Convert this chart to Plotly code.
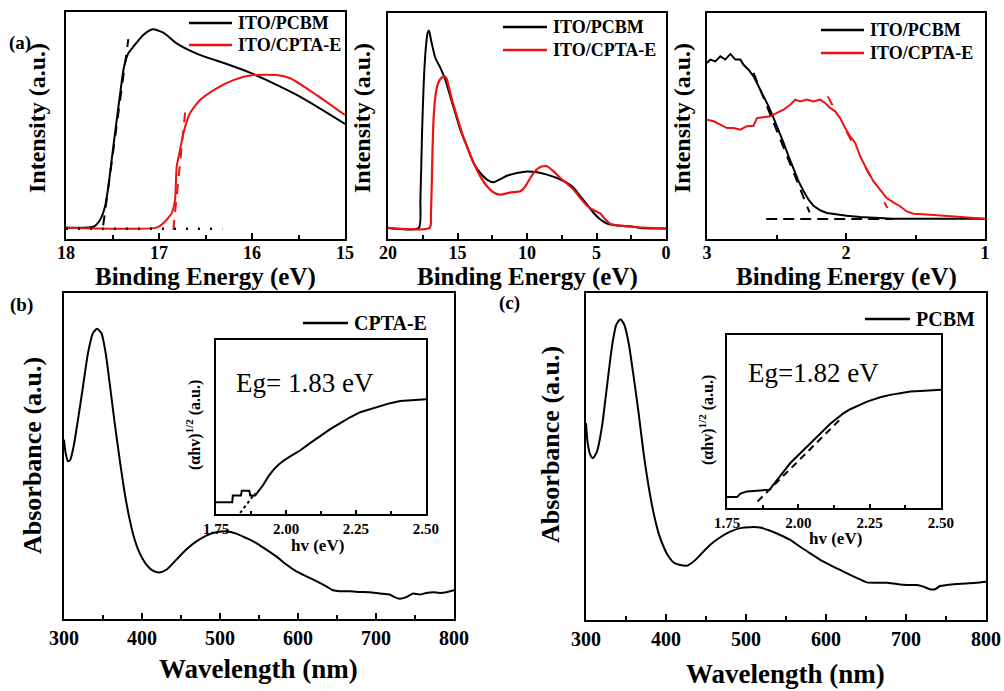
import plotly.graph_objects as go

SERIF = "Liberation Serif"
RED = "#ee1111"

# ---------------- data (a) left: secondary electron cutoff ----------------
a1_pcbm_x = [18.0, 17.706, 17.634, 17.581, 17.545, 17.509, 17.473, 17.427, 17.376, 17.33, 17.276, 17.169,
             17.068, 16.954, 16.81, 16.667, 16.487, 16.272, 16.022, 15.842, 15.484, 15.0]
a1_pcbm_y = [0.050, 0.054, 0.084, 0.142, 0.230, 0.348, 0.466, 0.612, 0.759, 0.818, 0.847, 0.899,
             0.924, 0.909, 0.862, 0.830, 0.800, 0.771, 0.733, 0.700, 0.627, 0.507]
a1_cpta_x = [18.0, 17.025, 16.954, 16.865, 16.828, 16.81, 16.774, 16.738, 16.667, 16.559, 16.38, 16.2,
             15.986, 15.735, 15.59, 15.304, 15.0]
a1_cpta_y = [0.050, 0.050, 0.069, 0.113, 0.172, 0.319, 0.392, 0.466, 0.554, 0.612, 0.664, 0.700,
             0.722, 0.722, 0.708, 0.634, 0.546]
a1_fit_pcbm_x = [17.60, 17.33]
a1_fit_pcbm_y = [0.06, 0.88]
a1_fit_cpta_x = [16.846, 16.713]
a1_fit_cpta_y = [0.04, 0.583]
a1_base_x = [18.0, 16.32]
a1_base_y = [0.045, 0.045]

# ---------------- data (a) middle: full UPS ----------------
a2_pcbm_x = [20.0, 17.79, 17.67, 17.55, 17.43, 17.29, 17.15, 17.05, 16.91, 16.59, 16.23, 15.88, 15.52,
             15.16, 14.80, 14.32, 13.84, 13.36, 12.88, 12.40, 11.92, 11.44, 10.72, 10.00, 9.28, 8.56,
             7.84, 7.12, 6.64, 6.16, 5.68, 5.20, 4.72, 4.24, 3.53, 2.57, 1.85, 0.0]
a2_pcbm_y = [0.049, 0.049, 0.174, 0.469, 0.690, 0.838, 0.912, 0.923, 0.882, 0.801, 0.757, 0.705, 0.631,
             0.558, 0.484, 0.410, 0.336, 0.292, 0.263, 0.251, 0.265, 0.280, 0.292, 0.299, 0.295, 0.285,
             0.270, 0.248, 0.226, 0.189, 0.152, 0.115, 0.086, 0.068, 0.060, 0.056, 0.049, 0.046]
a2_cpta_x = [20.0, 17.0, 16.91, 16.79, 16.71, 16.59, 16.43, 16.23, 15.99, 15.80, 15.64, 15.40, 15.04,
             14.68, 14.32, 13.84, 13.36, 12.88, 12.40, 11.92, 11.20, 10.48, 10.12, 9.76, 9.40, 9.04,
             8.56, 8.08, 7.60, 7.12, 6.64, 6.16, 5.68, 5.20, 4.72, 4.36, 4.00, 3.29, 2.33, 0.0]
a2_cpta_y = [0.049, 0.049, 0.115, 0.410, 0.543, 0.631, 0.683, 0.708, 0.720, 0.712, 0.676, 0.617, 0.543,
             0.469, 0.410, 0.336, 0.277, 0.233, 0.206, 0.196, 0.206, 0.211, 0.233, 0.270, 0.302, 0.319,
             0.322, 0.299, 0.270, 0.245, 0.218, 0.181, 0.147, 0.127, 0.112, 0.086, 0.066, 0.059, 0.053, 0.046]

# ---------------- data (a) right: HOMO onset ----------------
a3_pcbm_x = [3.0, 2.976, 2.940, 2.904, 2.868, 2.832, 2.796, 2.760, 2.737, 2.701, 2.665, 2.629, 2.593,
             2.557, 2.521, 2.485, 2.449, 2.413, 2.377, 2.341, 2.305, 2.269, 2.234, 2.186, 2.138, 2.066,
             1.994, 1.898, 1.778, 1.659, 1.0]
a3_pcbm_y = [0.779, 0.794, 0.786, 0.808, 0.794, 0.819, 0.794, 0.794, 0.771, 0.749, 0.720, 0.676, 0.631,
             0.587, 0.535, 0.484, 0.425, 0.366, 0.307, 0.255, 0.211, 0.174, 0.147, 0.127, 0.115, 0.108,
             0.103, 0.097, 0.093, 0.090, 0.090]
a3_cpta_x = [3.0, 2.952, 2.904, 2.856, 2.808, 2.760, 2.713, 2.665, 2.641, 2.593, 2.545, 2.497, 2.449,
             2.401, 2.365, 2.329, 2.281, 2.234, 2.186, 2.150, 2.114, 2.078, 2.042, 2.006, 1.970, 1.934,
             1.898, 1.850, 1.802, 1.755, 1.707, 1.659, 1.611, 1.563, 1.515, 1.419, 1.299, 1.180, 1.0]
a3_cpta_y = [0.528, 0.521, 0.506, 0.491, 0.491, 0.484, 0.499, 0.501, 0.535, 0.540, 0.543, 0.558, 0.572,
             0.594, 0.617, 0.609, 0.617, 0.609, 0.617, 0.602, 0.580, 0.565, 0.535, 0.491, 0.454, 0.425,
             0.366, 0.307, 0.255, 0.218, 0.181, 0.162, 0.145, 0.122, 0.112, 0.108, 0.103, 0.096, 0.090]
a3_base_x = [2.574, 1.659]
a3_base_y = [0.088, 0.088]
a3_fit_pcbm_x = [2.665, 2.262]
a3_fit_pcbm_y = [0.735, 0.118]
a3_fit_cpta_x = [2.131, 1.702]
a3_fit_cpta_y = [0.631, 0.137]

# ---------------- data (b) CPTA-E absorbance ----------------
b_wl = [300.0, 302.1, 305.1, 308.1, 312.4, 317.9, 324.4, 330.8, 337.2, 342.3, 347.9, 353.4, 358.5, 365.0,
        371.4, 377.8, 384.2, 390.6, 397.0, 405.6, 414.1, 422.6, 431.2, 444.0, 456.8, 469.7, 482.5, 495.3,
        508.1, 520.9, 533.8, 546.6, 559.4, 572.2, 585.0, 597.9, 610.7, 623.5, 636.3, 644.9, 653.4, 666.2,
        679.1, 691.9, 704.7, 717.5, 723.9, 730.3, 738.9, 747.4, 756.0, 764.5, 773.1, 781.6, 790.2, 800.0]
b_abs = [0.550, 0.509, 0.484, 0.489, 0.530, 0.611, 0.714, 0.816, 0.877, 0.890, 0.877, 0.816, 0.724, 0.601,
         0.489, 0.387, 0.305, 0.243, 0.202, 0.167, 0.148, 0.143, 0.151, 0.182, 0.213, 0.238, 0.256, 0.266,
         0.269, 0.262, 0.248, 0.233, 0.213, 0.192, 0.167, 0.146, 0.131, 0.116, 0.100, 0.088, 0.085, 0.085,
         0.083, 0.082, 0.078, 0.075, 0.067, 0.062, 0.067, 0.078, 0.075, 0.080, 0.082, 0.080, 0.082, 0.088]
b_hv = [1.750, 1.808, 1.810, 1.839, 1.842, 1.869, 1.872, 1.890, 1.901, 1.919, 1.937, 1.955, 1.973, 1.991,
        2.015, 2.050, 2.086, 2.122, 2.158, 2.194, 2.229, 2.265, 2.301, 2.337, 2.372, 2.408, 2.444, 2.500]
b_tauc = [0.067, 0.067, 0.107, 0.107, 0.134, 0.134, 0.107, 0.107, 0.130, 0.168, 0.216, 0.254, 0.283, 0.306,
          0.331, 0.365, 0.407, 0.449, 0.488, 0.522, 0.556, 0.585, 0.604, 0.621, 0.637, 0.650, 0.654, 0.660]
b_fit_x = [1.836, 1.890]
b_fit_y = [0.006, 0.120]

# ---------------- data (c) PCBM absorbance ----------------
c_wl = [300.0, 302.1, 305.4, 308.7, 313.7, 320.0, 326.2, 332.5, 337.9, 342.9, 347.9, 353.3, 359.5, 365.8,
        372.0, 378.3, 384.5, 390.8, 397.0, 403.2, 409.5, 417.8, 426.1, 434.5, 442.8, 455.3, 467.8, 480.3,
        492.8, 505.2, 517.7, 530.2, 542.7, 555.2, 567.7, 580.2, 592.7, 605.2, 617.7, 630.1, 642.6, 651.0,
        663.4, 675.9, 688.4, 700.9, 713.4, 721.7, 730.0, 736.3, 742.5, 750.9, 763.4, 775.9, 788.3, 800.0]
c_abs = [0.602, 0.541, 0.505, 0.495, 0.515, 0.592, 0.714, 0.837, 0.903, 0.920, 0.903, 0.847, 0.745, 0.633,
         0.510, 0.408, 0.327, 0.265, 0.224, 0.194, 0.176, 0.168, 0.166, 0.179, 0.199, 0.230, 0.253, 0.270,
         0.281, 0.284, 0.283, 0.273, 0.260, 0.245, 0.224, 0.204, 0.184, 0.168, 0.153, 0.138, 0.124, 0.115,
         0.114, 0.114, 0.110, 0.107, 0.107, 0.102, 0.094, 0.094, 0.104, 0.107, 0.110, 0.112, 0.114, 0.117]
c_hv = [1.750, 1.785, 1.797, 1.820, 1.855, 1.900, 1.908, 1.925, 1.949, 1.972, 1.995, 2.019, 2.042, 2.065,
        2.089, 2.112, 2.136, 2.159, 2.182, 2.206, 2.241, 2.287, 2.322, 2.357, 2.393, 2.428, 2.463, 2.500]
c_tauc = [0.063, 0.063, 0.083, 0.096, 0.100, 0.106, 0.125, 0.163, 0.212, 0.260, 0.298, 0.337, 0.375, 0.413,
          0.452, 0.487, 0.519, 0.548, 0.571, 0.590, 0.615, 0.640, 0.654, 0.663, 0.673, 0.677, 0.679, 0.683]
c_fit_x = [1.857, 2.147]
c_fit_y = [0.038, 0.513]

# ---------------- helpers ----------------
W, H = 1004, 691


def fx(p):
    return p / W


def fy(p):
    return 1 - p / H


def xax(x0, x1, y_anchor, rng, dtick, mdtick, size, fmt=None, tick0=None, standoff=0):
    d = dict(domain=[fx(x0), fx(x1)], anchor=y_anchor, range=rng, showline=True, mirror=True,
             linecolor="black", linewidth=2, ticks="inside", ticklen=6, tickwidth=2, tickcolor="black",
             dtick=dtick, showgrid=False, zeroline=False, automargin=False, ticklabelstandoff=standoff,
             minor=dict(ticks="inside", ticklen=4, tickwidth=1.5, tickcolor="black", dtick=mdtick, showgrid=False),
             tickfont=dict(family=SERIF, size=size, color="black", weight="bold"))
    if fmt:
        d["tickformat"] = fmt
    if tick0 is not None:
        d["tick0"] = tick0
        d["minor"]["tick0"] = tick0
    return d


def yax(y0, y1, x_anchor):
    return dict(domain=[fy(y1), fy(y0)], anchor=x_anchor, range=[0, 1], showline=True, mirror=True,
                linecolor="black", linewidth=2, ticks="", showticklabels=False, showgrid=False,
                zeroline=False, automargin=False)


fig = go.Figure()


def line(x, y, ax, color="black", width=2, dash="solid", shape="linear"):
    fig.add_trace(go.Scatter(x=x, y=y, xaxis="x" + ax, yaxis="y" + ax, mode="lines", showlegend=False,
                             line=dict(color=color, width=width, dash=dash, shape=shape, smoothing=0.6),
                             hoverinfo="skip"))


# panel a1
line(a1_pcbm_x, a1_pcbm_y, "", shape="spline")
line(a1_cpta_x, a1_cpta_y, "", RED, shape="spline")
line(a1_fit_pcbm_x, a1_fit_pcbm_y, "", dash="10px,8px")
line(a1_fit_cpta_x, a1_fit_cpta_y, "", RED, dash="10px,8px")
line(a1_base_x, a1_base_y, "", width=2.5, dash="2px,10px")
# panel a2
line(a2_pcbm_x, a2_pcbm_y, "2", shape="spline")
line(a2_cpta_x, a2_cpta_y, "2", RED, width=2.2, shape="spline")
# panel a3
line(a3_pcbm_x, a3_pcbm_y, "3")
line(a3_cpta_x, a3_cpta_y, "3", RED)
line(a3_base_x, a3_base_y, "3", dash="11px,6px")
line(a3_fit_pcbm_x, a3_fit_pcbm_y, "3", dash="10px,8px")
line(a3_fit_cpta_x, a3_fit_cpta_y, "3", RED, dash="10px,30px")
# panel b
line(b_wl, b_abs, "4", shape="spline")
line(b_hv, b_tauc, "6")
line(b_fit_x, b_fit_y, "6", dash="3px,3px")
# panel c
line(c_wl, c_abs, "5", shape="spline")
line(c_hv, c_tauc, "7")
line(c_fit_x, c_fit_y, "7", dash="7px,5px")

layout = dict(
    template="none",
    width=W, height=H, margin=dict(l=0, r=0, t=0, b=0, pad=0), autosize=False,
    paper_bgcolor="white", plot_bgcolor="rgba(0,0,0,0)", showlegend=False,
    font=dict(family=SERIF, color="black"),
    xaxis=xax(66, 345, "y", [18, 15], 1, 0.5, 18, standoff=-4),
    yaxis=yax(12, 239, "x"),
    xaxis2=xax(388, 666, "y2", [20, 0], 5, 2.5, 18, standoff=-4),
    yaxis2=yax(13, 239, "x2"),
    xaxis3=xax(707, 985, "y3", [3, 1], 1, 0.5, 18, standoff=-4),
    yaxis3=yax(13, 239, "x3"),
    xaxis4=xax(64, 454, "y4", [300, 800], 100, 50, 20),
    yaxis4=yax(293, 619, "x4"),
    xaxis5=xax(586, 986, "y5", [300, 800], 100, 50, 20),
    yaxis5=yax(293, 620, "x5"),
    xaxis6=xax(216, 426, "y6", [1.7499, 2.5001], 0.25, 0.125, 15, ".2f", 1.75),
    yaxis6=yax(340, 514, "x6"),
    xaxis7=xax(727, 941, "y7", [1.7499, 2.5001], 0.25, 0.125, 15, ".2f", 1.75),
    yaxis7=yax(335, 508, "x7"),
)
for k in ("xaxis6", "xaxis7"):
    layout[k]["ticklen"] = 4
    layout[k]["minor"]["ticklen"] = 3

ann = []


def text(t, x, y, size, bold=True, xanchor="center", angle=0):
    ann.append(dict(text=t, x=fx(x), y=fy(y), xref="paper", yref="paper", showarrow=False,
                    xanchor=xanchor, yanchor="middle", textangle=angle,
                    font=dict(family=SERIF, size=size, color="black", weight="bold" if bold else "normal")))


# axis titles
for cx in (205, 527, 846):
    text("Binding Energy (eV)", cx, 277, 25)
for cx in (37, 362, 682):
    text("Intensity (a.u.)", cx, 118, 24, angle=-90)
text("Wavelength (nm)", 258, 669, 27)
text("Wavelength (nm)", 785, 674, 27)
text("Absorbance (a.u.)", 32, 456, 26, angle=-90)
text("Absorbance (a.u.)", 550, 445, 26, angle=-90)
text("hv (eV)", 317, 545, 17)
text("hv (eV)", 835, 538, 17)
text("(αhv)<sup>1/2</sup> (a.u.)", 193, 425, 16, angle=-90)
text("(αhv)<sup>1/2</sup> (a.u.)", 706, 420, 16, angle=-90)
text("Eg= 1.83 eV", 305, 383, 27, bold=False)
text("Eg=1.82 eV", 813, 373, 27, bold=False)
# panel labels
text("(a)", 20, 43, 19)
text("(b)", 21, 305, 19)
text("(c)", 509, 303, 19)

# legends (key line + label)
shapes = []


def key(x0, x1, y, color, label, size):
    shapes.append(dict(type="line", xref="paper", yref="paper", x0=fx(x0), x1=fx(x1), y0=fy(y), y1=fy(y),
                       line=dict(color=color, width=2.5)))
    text(label, x1 + 4, y, size, xanchor="left")


key(189, 232, 23, "black", "ITO/PCBM", 18)
key(189, 232, 45, RED, "ITO/CPTA-E", 18)
key(503, 547, 27, "black", "ITO/PCBM", 18)
key(503, 547, 50, RED, "ITO/CPTA-E", 18)
key(821, 864, 30, "black", "ITO/PCBM", 18)
key(821, 864, 53, RED, "ITO/CPTA-E", 18)
key(303, 348, 323, "black", "CPTA-E", 20)
key(865, 910, 319, "black", "PCBM", 20)

layout["annotations"] = ann
layout["shapes"] = shapes
fig.update_layout(**layout)
fig.write_html("out.html", config={"displayModeBar": False},
               post_script="document.body.style.margin='0';document.body.style.overflow='hidden';")
